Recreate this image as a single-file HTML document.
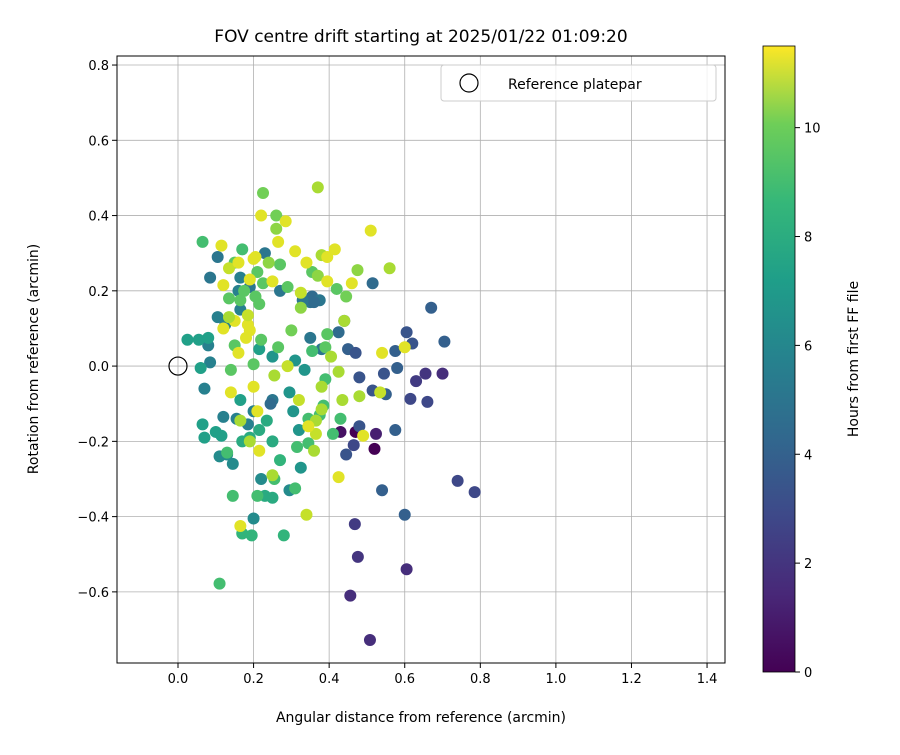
<!DOCTYPE html>
<html><head><meta charset="utf-8"><style>
body{margin:0;background:#fff;font-family:"Liberation Sans","DejaVu Sans",sans-serif;}
svg text{font-family:"DejaVu Sans","Liberation Sans",sans-serif;}
</style></head><body>
<svg id="chart" width="900" height="750" xmlns="http://www.w3.org/2000/svg">
<defs><linearGradient id="vir" x1="0" y1="1" x2="0" y2="0">
<stop offset="0" stop-color="#440154"/><stop offset="0.125" stop-color="#482878"/><stop offset="0.25" stop-color="#3e4989"/><stop offset="0.375" stop-color="#31688e"/><stop offset="0.5" stop-color="#26828e"/><stop offset="0.625" stop-color="#1f9e89"/><stop offset="0.75" stop-color="#35b779"/><stop offset="0.875" stop-color="#6ece58"/><stop offset="1" stop-color="#fde725"/></linearGradient></defs>
<text x="421" y="42" font-size="17" text-anchor="middle">FOV centre drift starting at 2025/01/22 01:09:20</text>
<g id="grid"></g><g id="pts"></g><g id="axes"></g>
<g>
<rect x="441" y="65" width="275" height="36" rx="3" fill="#fff" fill-opacity="0.8" stroke="#ccc"/>
<circle cx="469" cy="83" r="9" fill="none" stroke="#000" stroke-width="1.2"/>
<text x="508" y="89" font-size="14">Reference platepar</text></g>
<rect x="763" y="46" width="32" height="626" fill="url(#vir)" stroke="#000" stroke-width="0.8"/>
<g id="cbticks"></g>
<text transform="translate(858,359) rotate(-90)" font-size="14" text-anchor="middle">Hours from first FF file</text>
<text x="421" y="722" font-size="14" text-anchor="middle">Angular distance from reference (arcmin)</text>
<text transform="translate(38,359) rotate(-90)" font-size="14" text-anchor="middle">Rotation from reference (arcmin)</text>
</svg>
<script>
const xs=[0.508,0.456,0.605,0.468,0.476,0.524,0.47,0.43,0.52,0.74,0.785,0.70,0.63,0.655,0.66,0.615,0.605,0.62,0.705,0.67,0.58,0.575,0.575,0.545,0.55,0.515,0.48,0.45,0.47,0.465,0.445,0.48,0.54,0.6,0.515,0.44,0.425,0.35,0.355,0.375,0.36,0.38,0.35,0.33,0.27,0.25,0.245,0.2,0.12,0.07,0.085,0.08,0.085,0.105,0.105,0.125,0.165,0.16,0.23,0.19,0.165,0.155,0.185,0.11,0.13,0.145,0.2,0.22,0.295,0.325,0.32,0.305,0.335,0.31,0.295,0.25,0.215,0.025,0.055,0.08,0.06,0.065,0.07,0.1,0.115,0.165,0.17,0.19,0.215,0.235,0.25,0.23,0.25,0.27,0.28,0.195,0.17,0.11,0.145,0.21,0.13,0.255,0.31,0.315,0.345,0.345,0.375,0.41,0.43,0.39,0.385,0.355,0.39,0.395,0.355,0.445,0.42,0.27,0.29,0.3,0.265,0.22,0.15,0.14,0.2,0.175,0.165,0.135,0.205,0.215,0.225,0.065,0.17,0.15,0.21,0.225,0.26,0.26,0.24,0.325,0.37,0.475,0.56,0.37,0.38,0.44,0.405,0.38,0.38,0.365,0.435,0.425,0.48,0.365,0.36,0.34,0.425,0.49,0.32,0.29,0.255,0.25,0.215,0.21,0.19,0.165,0.165,0.14,0.2,0.16,0.18,0.185,0.19,0.15,0.135,0.12,0.185,0.12,0.135,0.115,0.16,0.19,0.2,0.205,0.22,0.265,0.25,0.285,0.31,0.34,0.325,0.395,0.415,0.395,0.51,0.46,0.54,0.6,0.535,0.345];
const ys=[-0.728,-0.61,-0.54,-0.42,-0.507,-0.18,-0.175,-0.175,-0.22,-0.305,-0.335,-0.02,-0.04,-0.02,-0.095,-0.087,0.09,0.06,0.065,0.155,-0.005,0.04,-0.17,-0.02,-0.075,-0.065,-0.03,0.045,0.035,-0.21,-0.235,-0.16,-0.33,-0.395,0.22,0.12,0.09,0.17,0.185,0.175,0.17,0.045,0.075,0.175,0.2,-0.09,-0.1,-0.12,-0.135,-0.06,0.01,0.055,0.235,0.29,0.13,0.11,0.235,0.2,0.3,0.21,0.15,-0.14,-0.155,-0.24,-0.235,-0.26,-0.405,-0.3,-0.33,-0.27,-0.17,-0.12,-0.01,0.015,-0.07,0.025,0.045,0.07,0.07,0.075,-0.005,-0.155,-0.19,-0.175,-0.185,-0.09,-0.2,-0.19,-0.17,-0.145,-0.2,-0.345,-0.35,-0.25,-0.45,-0.45,-0.445,-0.578,-0.345,-0.345,-0.23,-0.3,-0.325,-0.215,-0.14,-0.205,-0.13,-0.18,-0.14,-0.035,-0.105,0.04,0.05,0.085,0.25,0.185,0.205,0.27,0.21,0.095,0.05,0.07,0.055,-0.01,0.005,0.2,0.175,0.18,0.185,0.165,0.22,0.33,0.31,0.275,0.25,0.46,0.4,0.365,0.275,0.155,0.24,0.255,0.26,0.475,0.295,0.12,0.025,-0.055,-0.115,-0.145,-0.09,-0.015,-0.08,-0.18,-0.225,-0.395,-0.295,-0.185,-0.09,0,-0.025,-0.29,-0.225,-0.12,-0.2,-0.425,-0.145,-0.07,-0.055,0.035,0.075,0.11,0.095,0.12,0.13,0.1,0.135,0.215,0.26,0.32,0.275,0.23,0.285,0.29,0.4,0.33,0.225,0.385,0.305,0.275,0.195,0.29,0.31,0.225,0.36,0.22,0.035,0.05,-0.07,-0.16];
const hs=[1.5,1.5,1.5,2,1.8,1,0,0.5,0,2.5,2.5,1.5,2,1.8,2.5,2.5,3,3,3.5,3.5,3.5,3.5,3.5,3,3.5,3,3,3.5,3,2.5,3,3,3.5,3.5,4,4,4,4.5,4,4.5,4,4.5,4.5,4.5,4.5,4.5,4,5,5,5,5,5,4.5,4.5,5,5,5,5,4.5,4.5,5,5,5,5.5,5.5,5.5,5.5,5.5,5.5,6,6,6,6,6,6,6,6.5,6.5,6.5,6.5,6.5,6.5,6.5,6.5,6.5,6.5,7,7,7,7,7,7,7,7.5,7.5,7.5,7.5,8,8,8,8,8,8,8,8,8,8,8,8,8,8,8,8.5,8.5,8.5,9,8.5,8.5,8.5,9,8.5,8.5,8.5,8.5,8.5,8.5,8.5,8.5,8.5,8.5,8.5,8,8,8.5,8.5,9,9,9.5,9.5,9.5,9.5,9.5,10,10,10,10,10,10,10,10,10,10,10,10.5,10,10.5,11,11,10.5,10.5,10,10,11,11,10,11,10,11,11,11,11,11,11,11,10,11,10.5,11,10.5,11,11,11,11,11,11,11,11,11,11,11,10.5,11,11,11,11,11,11,11,10.5,11];
const xTicks=[0,0.2,0.4,0.6,0.8,1.0,1.2,1.4];
const yTicks=[-0.6,-0.4,-0.2,0,0.2,0.4,0.6,0.8];
const cbTicks=[0,2,4,6,8,10];
const L=117,R=725,T=56,B=663,XMIN=-0.1614,XMAX=1.4475,YMIN=-0.789,YMAX=0.824,HMAX=11.5;
const sx=v=>L+(v-XMIN)/(XMAX-XMIN)*(R-L);
const sy=v=>B-(v-YMIN)/(YMAX-YMIN)*(B-T);
const NS="http://www.w3.org/2000/svg";
const vir=[[68,1,84],[72,40,120],[62,73,137],[49,104,142],[38,130,142],[31,158,137],[53,183,121],[110,206,88],[181,222,43],[253,231,37]];
function cmap(h){let t=Math.max(0,Math.min(1,h/HMAX))*(vir.length-1);let i=Math.min(Math.floor(t),vir.length-2),f=t-i;const c=vir[i].map((a,k)=>Math.round(a+(vir[i+1][k]-a)*f));return `rgb(${c})`;}
function mk(tag,at,parent){const e=document.createElementNS(NS,tag);for(const k in at)e.setAttribute(k,at[k]);parent.appendChild(e);return e;}
const grid=document.getElementById('grid'),axes=document.getElementById('axes'),pts=document.getElementById('pts'),cb=document.getElementById('cbticks');
xTicks.forEach(v=>{const x=sx(v);
const g=mk('line',{x1:x,x2:x,y1:T,y2:B,stroke:'#b0b0b0','stroke-width':0.8},grid);


mk('line',{x1:x,x2:x,y1:B,y2:B+5,stroke:'#000'},axes);
const t=mk('text',{x:x,y:B+20,'font-size':13,'text-anchor':'middle'},axes);t.textContent=v.toFixed(1);

});
yTicks.forEach(v=>{const y=sy(v);
const g=mk('line',{x1:L,x2:R,y1:y,y2:y,stroke:'#b0b0b0','stroke-width':0.8},grid);


mk('line',{x1:L-5,x2:L,y1:y,y2:y,stroke:'#000'},axes);
const t=mk('text',{x:L-8,y:y+5,'font-size':13,'text-anchor':'end'},axes);t.textContent=(v<0?'\u2212':'')+Math.abs(v).toFixed(1);

});
xs.forEach((x,i)=>{const c=mk('circle',{cx:sx(x),cy:sy(ys[i]),r:6,fill:cmap(hs[i])},pts);

});
const ref=mk('circle',{cx:sx(0),cy:sy(0),r:9,fill:'none',stroke:'#000','stroke-width':1.2},pts);


const fr=mk('rect',{x:L,y:T,width:R-L,height:B-T,fill:'none',stroke:'#000','stroke-width':1},axes);


cbTicks.forEach(v=>{const y=672-v/HMAX*626;
mk('line',{x1:795,x2:800,y1:y,y2:y,stroke:'#000'},cb);
const t=mk('text',{x:804,y:y+5,'font-size':13},cb);t.textContent=v;

});
</script>
</body></html>
